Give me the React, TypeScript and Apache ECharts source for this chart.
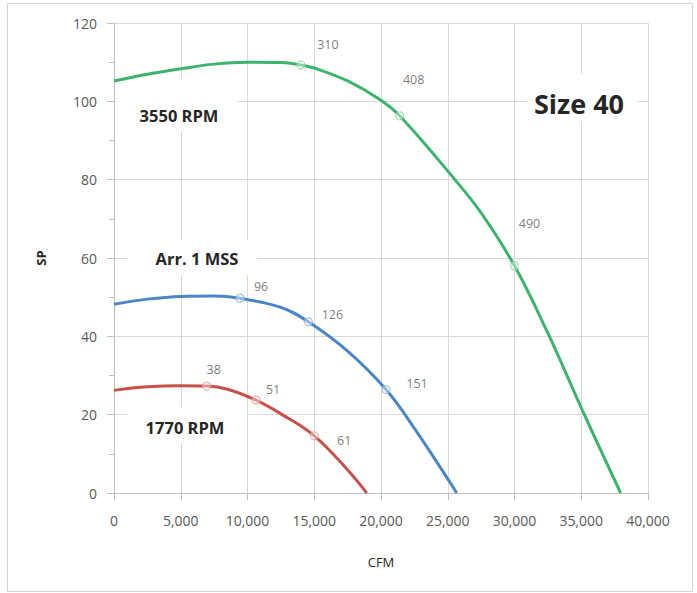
import React, { useEffect, useRef } from "react";
import * as echarts from "echarts";

const xTicks = [0, 5000, 10000, 15000, 20000, 25000, 30000, 35000, 40000];
const yTicks = [0, 20, 40, 60, 80, 100, 120];

// Curve points [CFM, SP]
const curve3550: [number, number][] = [
  [0, 105.2], [2500, 106.9], [5000, 108.3], [7500, 109.5], [10000, 110],
  [12500, 109.9], [14000, 109.3], [15000, 108.5], [17500, 105.2], [20000, 100.3],
  [21400, 96.3], [25540, 80], [27500, 71.5], [30000, 58], [32500, 40.8],
  [35100, 21], [37950, 0],
];
const curveMSS: [number, number][] = [
  [0, 48.2], [2500, 49.5], [5000, 50.2], [7500, 50.3], [9440, 49.7],
  [12500, 47.4], [14560, 43.7], [17500, 36.2], [20375, 26.4], [22500, 16.5],
  [25000, 3.6], [25670, 0],
];
const curve1770: [number, number][] = [
  [0, 26.2], [2500, 27.1], [5000, 27.4], [6940, 27.3], [8500, 26.5],
  [10640, 23.7], [12500, 20.2], [15000, 14.6], [17600, 5.5], [18930, 0],
];

// Marked operating points and their labels
const pts3550: [number, number][] = [[14000, 109.3], [21400, 96.3], [30000, 58]];
const lbl3550 = ["310", "408", "490"];
const ptsMSS: [number, number][] = [[9440, 49.7], [14560, 43.7], [20375, 26.4]];
const lblMSS = ["96", "126", "151"];
const pts1770: [number, number][] = [[6940, 27.3], [10640, 23.7], [15000, 14.6]];
const lbl1770 = ["38", "51", "61"];

// label offsets (layout only)
const off3550 = [[27, -20], [14, -36], [15, -42]];
const offMSS = [[21, -12], [24, -7], [31, -6]];
const off1770 = [[7, -17], [17, -11], [30, 5]];

const FONT = "'Open Sans', 'Noto Sans', sans-serif";

function markerSeries(
  name: string,
  pts: [number, number][],
  labels: string[],
  offs: number[][],
  stroke: string
) {
  return {
    name,
    type: "scatter",
    symbol: "circle",
    symbolSize: 8,
    z: 4,
    itemStyle: { color: "rgba(255,255,255,0.5)", borderColor: stroke, borderWidth: 1.2 },
    data: pts.map((p, i) => ({
      value: p,
      label: {
        show: true,
        formatter: labels[i],
        position: "inside",
        offset: offs[i],
        align: "center",
        verticalAlign: "middle",
        color: "#595959",
        fontSize: 12.5,
        fontFamily: FONT,
      },
    })),
  };
}

function lineSeries(name: string, data: [number, number][], color: string) {
  return {
    name,
    type: "line",
    smooth: 0.4,
    showSymbol: false,
    z: 3,
    lineStyle: { color, width: 3 },
    data,
  };
}

function boxText(text: string, cx: number, cy: number, box: number[], size: number) {
  return [
    {
      type: "rect",
      z: 1,
      shape: { x: box[0], y: box[1], width: box[2] - box[0], height: box[3] - box[1] },
      style: { fill: "#ffffff" },
    },
    {
      type: "text",
      z: 5,
      x: cx,
      y: cy,
      style: {
        text,
        fill: "#262626",
        font: `bold ${size}px ${FONT}`,
        textAlign: "center",
        textVerticalAlign: "middle",
      },
    },
  ];
}

export default function App() {
  const ref = useRef<HTMLDivElement>(null);
  useEffect(() => {
    if (!ref.current) return;
    const chart = echarts.init(ref.current, undefined, { renderer: "svg" });
    chart.setOption({
      animation: false,
      backgroundColor: "#ffffff",
      grid: { left: 114, right: 49, top: 23, bottom: 100 },
      xAxis: {
        type: "value",
        min: xTicks[0],
        max: xTicks[xTicks.length - 1],
        interval: 5000,
        name: "CFM",
        nameLocation: "middle",
        nameGap: 62,
        nameTextStyle: { color: "#262626", fontSize: 13, fontFamily: FONT },
        axisLine: { show: true, lineStyle: { color: "#bfbfbf" } },
        axisTick: { show: true, length: 7, lineStyle: { color: "#bfbfbf" } },
        axisLabel: {
          color: "#595959",
          fontSize: 14,
          fontFamily: FONT,
          margin: 20,
          formatter: (v: number) => v.toLocaleString("en-US"),
        },
        splitLine: { show: true, lineStyle: { color: "#d9d9d9" } },
      },
      yAxis: {
        type: "value",
        min: yTicks[0],
        max: yTicks[yTicks.length - 1],
        interval: 20,
        name: "SP",
        nameLocation: "middle",
        nameGap: 67,
        nameRotate: 90,
        nameTextStyle: { color: "#262626", fontSize: 13, fontWeight: "bold", fontFamily: FONT },
        axisLine: { show: true, lineStyle: { color: "#bfbfbf" } },
        axisTick: { show: true, length: 7, lineStyle: { color: "#bfbfbf" } },
        minorTick: { show: true, splitNumber: 2, length: 5, lineStyle: { color: "#bfbfbf" } },
        axisLabel: { color: "#595959", fontSize: 14, fontFamily: FONT, margin: 17 },
        splitLine: { show: true, lineStyle: { color: "#d9d9d9" } },
      },
      graphic: [
        {
          type: "rect",
          z: 0,
          shape: { x: 7.5, y: 3.5, width: 685, height: 588 },
          style: { fill: "none", stroke: "#d4d4d4", lineWidth: 1 },
        },
        ...boxText("3550 RPM", 179, 115, [116, 78, 237, 131], 16.5),
        ...boxText("Arr. 1 MSS", 197, 258, [127, 240, 257, 275], 16.5),
        ...boxText("1770 RPM", 185, 427, [128, 407, 247, 443], 16.5),
        ...boxText("Size 40", 579, 103, [527, 74, 637, 122], 27),
      ],
      series: [
        lineSeries("3550 RPM", curve3550, "#3cb46e"),
        lineSeries("Arr. 1 MSS", curveMSS, "#4a86c8"),
        lineSeries("1770 RPM", curve1770, "#c8504a"),
        markerSeries("3550 pts", pts3550, lbl3550, off3550, "#8fd3a6"),
        markerSeries("MSS pts", ptsMSS, lblMSS, offMSS, "#8db4e2"),
        markerSeries("1770 pts", pts1770, lbl1770, off1770, "#e6a09c"),
      ],
    });
    return () => chart.dispose();
  }, []);
  return (
    <div
      ref={ref}
      style={{ position: "fixed", left: 0, top: 0, width: 697, height: 593 }}
    />
  );
}
